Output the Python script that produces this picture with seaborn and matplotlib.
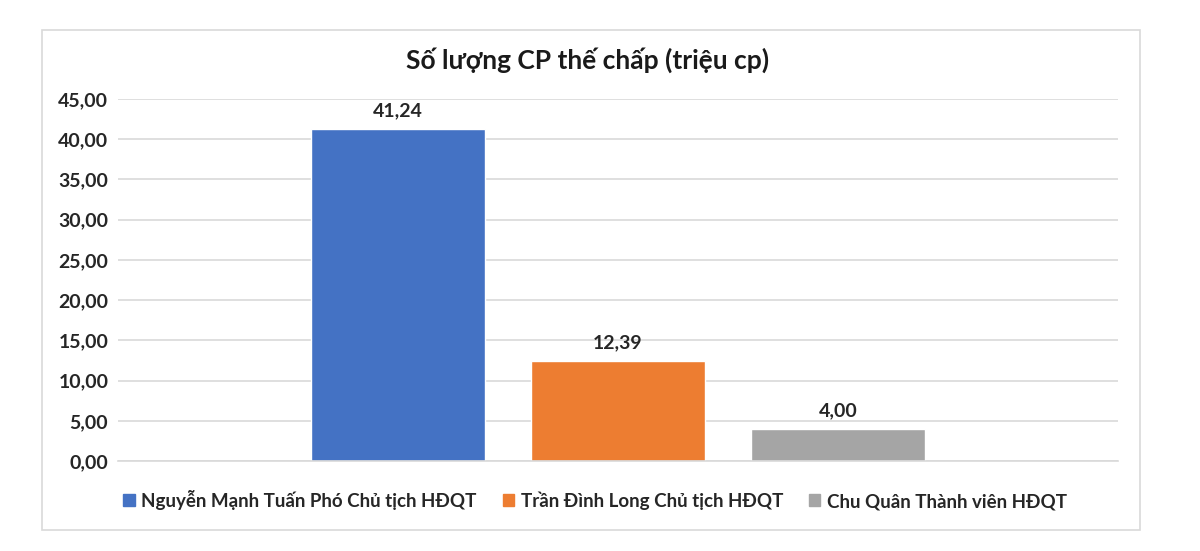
import matplotlib
matplotlib.use("Agg")
import matplotlib.pyplot as plt
import matplotlib.patches as mpatches
import seaborn as sns
import pandas as pd

title = "Số lượng CP thế chấp (triệu cp)"
series = ["Nguyễn Mạnh Tuấn Phó Chủ tịch HĐQT",
          "Trần Đình Long Chủ tịch HĐQT",
          "Chu Quân Thành viên HĐQT"]
values = [41.24, 12.39, 4.00]
category = ["Số lượng"]
colors = ["#4472C4", "#ED7D31", "#A5A5A5"]
yticks = [0, 5, 10, 15, 20, 25, 30, 35, 40, 45]

df = pd.DataFrame({"cat": category * len(series), "series": series, "val": values})

sns.set_theme(style="white")
FONT = ["Lato", "DejaVu Sans"]
plt.rcParams["font.family"] = FONT

fig = plt.figure(figsize=(12, 5.51), dpi=100)
ax = fig.add_axes([118/1200, 1-461/551, 1000/1200, 362/551])

sns.barplot(data=df, x="cat", y="val", hue="series", palette=colors,
            width=0.66, gap=0.21, ax=ax, legend=False, saturation=1)

ax.set_xlim(-0.5, 0.5)
ax.set_ylim(0, 45)
ax.set_yticks(yticks)
ax.set_yticklabels([f"{v:.2f}".replace(".", ",") for v in yticks],
                   fontsize=14, fontweight="bold", color="#262626")
ax.set_xticks([])
ax.set_xlabel("")
ax.set_ylabel("")
ax.tick_params(axis="y", length=0, pad=7)
ax.yaxis.grid(True, color="#D9D9D9", linewidth=1.2)
ax.set_axisbelow(True)
for s in ["top", "right", "left"]:
    ax.spines[s].set_visible(False)
ax.spines["bottom"].set_color("#D9D9D9")
ax.spines["bottom"].set_linewidth(1.2)

for cont in ax.containers:
    ax.bar_label(cont, labels=[f"{v:.2f}".replace(".", ",") for v in cont.datavalues],
                 padding=7, fontsize=14, fontweight="bold", color="#262626")

fig.text(0.49, 1-60/551, title, ha="center", va="center",
         fontsize=19, fontweight="bold", color="#1a1a1a")

handles = [mpatches.Patch(color=c, label=s) for c, s in zip(colors, series)]
leg = fig.legend(handles=handles, loc="center", bbox_to_anchor=(0.496, 1-500/551),
                 ncol=3, frameon=False, handlelength=0.6, handleheight=0.6,
                 handletextpad=0.35, columnspacing=1.4,
                 prop={"family": FONT, "size": 13.5, "weight": "bold"})
for t in leg.get_texts():
    t.set_color("#262626")

border = mpatches.Rectangle((42/1200, 1-530/551), 1098/1200, 500/551,
                            transform=fig.transFigure, fill=False,
                            edgecolor="#D9D9D9", linewidth=1.2)
fig.patches.append(border)

fig.savefig("out.png", dpi=100)
